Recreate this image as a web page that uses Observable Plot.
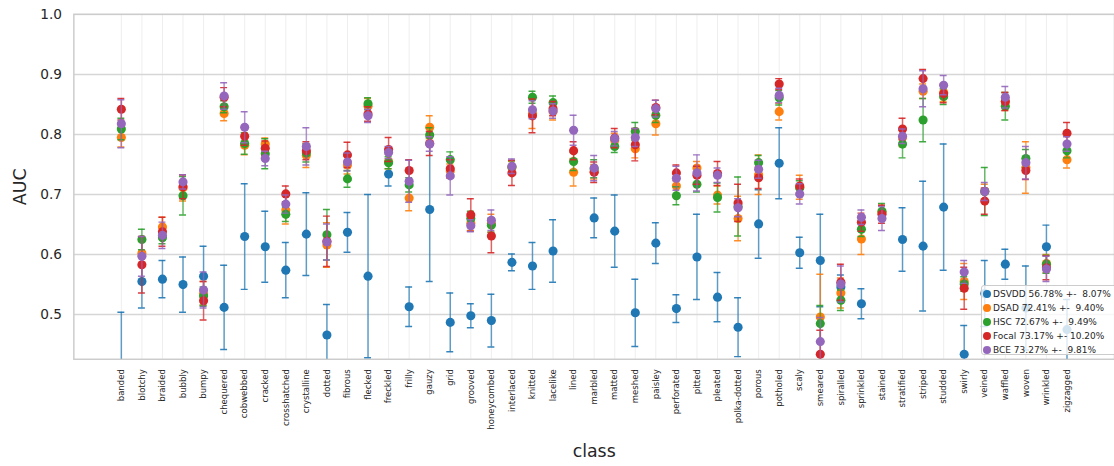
<!DOCTYPE html>
<html>
<head>
<meta charset="utf-8">
<script src="https://cdn.jsdelivr.net/npm/d3@7"></script>
<script src="https://cdn.jsdelivr.net/npm/@observablehq/plot@0.6"></script>
<style>
  body { margin: 0; background: #fff; }
  #wrap { position: relative; width: 1114px; height: 466px; overflow: hidden; background: #fff; }
  #legend { position: absolute; left: 981px; top: 285px; width: 150px; height: 70px;
    background: rgba(255,255,255,0.8); border: 1px solid #cccccc; border-radius: 3px;
    font-family: "DejaVu Sans", sans-serif; font-size: 9px; color: #262626; box-sizing: border-box; }
  .row { position: absolute; left: 0; height: 14px; white-space: pre; display: flex; align-items: center; }
  .sw { width: 8px; height: 8px; border-radius: 50%; margin-left: 1px; margin-right: 2px; }
</style>
</head>
<body>
<div id="wrap"><div id="legend"></div></div>
<script>
const classes = ["banded","blotchy","braided","bubbly","bumpy","chequered","cobwebbed","cracked","crosshatched","crystalline","dotted","fibrous","flecked","freckled","frilly","gauzy","grid","grooved","honeycombed","interlaced","knitted","lacelike","lined","marbled","matted","meshed","paisley","perforated","pitted","pleated","polka-dotted","porous","potholed","scaly","smeared","spiralled","sprinkled","stained","stratified","striped","studded","swirly","veined","waffled","woven","wrinkled","zigzagged"];

const seriesNames = ["DSVDD","DSAD","HSC","Focal","BCE"];
const legendLabels = ["DSVDD 56.78% +-  8.07%","DSAD 72.41% +-  9.40%","HSC 72.67% +-  9.49%","Focal 73.17% +- 10.20%","BCE 73.27% +-  9.81%"];
const palette = ["#1f77b4","#ff7f0e","#2ca02c","#d62728","#9467bd"];
const yTicks = [0.5,0.6,0.7,0.8,0.9,1.0];

const dsvddMean = [0.41,0.555,0.559,0.550,0.564,0.512,0.630,0.613,0.574,0.634,0.466,0.637,0.564,0.734,0.513,0.675,0.487,0.498,0.490,0.587,0.581,0.606,0.40,0.661,0.639,0.503,0.619,0.510,0.596,0.529,0.479,0.651,0.752,0.603,0.590,0.546,0.518,0.40,0.625,0.614,0.679,0.434,0.535,0.584,0.511,0.613,0.475];
const dsvddStd  = [0.094,0.044,0.031,0.046,0.050,0.070,0.088,0.059,0.046,0.069,0.051,0.033,0.136,0.020,0.033,0.120,0.049,0.020,0.044,0.014,0.039,0.052,0.020,0.033,0.060,0.056,0.034,0.023,0.071,0.041,0.049,0.057,0.059,0.026,0.077,0.020,0.025,0.020,0.053,0.108,0.105,0.048,0.055,0.025,0.070,0.036,0.050];

const dsadMean = [0.795,0.602,0.646,0.711,0.535,0.835,0.782,0.784,0.674,0.765,0.616,0.749,0.847,0.755,0.694,0.812,0.739,0.652,0.652,0.745,0.835,0.838,0.737,0.738,0.790,0.776,0.818,0.714,0.744,0.699,0.660,0.733,0.838,0.712,0.496,0.536,0.626,0.670,0.795,0.872,0.870,0.555,0.705,0.855,0.745,0.585,0.758];
const dsadStd  = [0.016,0.020,0.016,0.022,0.020,0.012,0.016,0.010,0.023,0.020,0.037,0.015,0.013,0.012,0.021,0.019,0.012,0.012,0.015,0.010,0.025,0.014,0.023,0.012,0.012,0.015,0.019,0.015,0.011,0.015,0.037,0.033,0.014,0.020,0.071,0.025,0.026,0.012,0.015,0.012,0.015,0.030,0.012,0.015,0.043,0.015,0.014];

const hscMean = [0.809,0.625,0.628,0.698,0.531,0.846,0.785,0.768,0.667,0.769,0.633,0.726,0.851,0.753,0.716,0.799,0.758,0.660,0.649,0.746,0.862,0.853,0.755,0.743,0.780,0.805,0.832,0.698,0.717,0.695,0.680,0.753,0.861,0.711,0.485,0.524,0.642,0.672,0.784,0.824,0.863,0.551,0.705,0.847,0.760,0.584,0.773];
const hscStd  = [0.018,0.017,0.010,0.032,0.015,0.010,0.018,0.025,0.012,0.015,0.042,0.014,0.010,0.010,0.012,0.012,0.013,0.012,0.012,0.010,0.010,0.011,0.015,0.015,0.010,0.015,0.012,0.015,0.013,0.024,0.049,0.012,0.012,0.012,0.030,0.017,0.012,0.013,0.023,0.036,0.013,0.012,0.040,0.023,0.015,0.015,0.012];

const focalMean = [0.842,0.583,0.638,0.713,0.523,0.862,0.797,0.777,0.701,0.773,0.622,0.766,0.834,0.775,0.740,0.785,0.743,0.666,0.631,0.736,0.831,0.843,0.773,0.737,0.794,0.783,0.845,0.736,0.732,0.735,0.686,0.728,0.884,0.714,0.434,0.554,0.654,0.667,0.809,0.893,0.868,0.544,0.689,0.855,0.740,0.578,0.802];
const focalStd  = [0.018,0.047,0.024,0.020,0.032,0.016,0.015,0.012,0.013,0.015,0.042,0.021,0.012,0.020,0.018,0.020,0.015,0.027,0.028,0.021,0.028,0.012,0.015,0.017,0.016,0.027,0.012,0.013,0.015,0.020,0.031,0.018,0.009,0.012,0.040,0.030,0.015,0.015,0.018,0.015,0.015,0.035,0.022,0.015,0.015,0.020,0.018];

const bceMean = [0.818,0.597,0.632,0.721,0.541,0.864,0.812,0.760,0.684,0.780,0.621,0.754,0.831,0.770,0.722,0.784,0.731,0.648,0.657,0.747,0.841,0.839,0.807,0.744,0.793,0.795,0.843,0.727,0.736,0.732,0.678,0.742,0.865,0.701,0.455,0.551,0.662,0.660,0.797,0.876,0.882,0.571,0.705,0.862,0.753,0.576,0.784];
const bceStd  = [0.040,0.033,0.022,0.012,0.030,0.022,0.026,0.012,0.015,0.031,0.030,0.015,0.011,0.010,0.035,0.012,0.032,0.010,0.017,0.012,0.015,0.012,0.025,0.021,0.012,0.015,0.014,0.020,0.030,0.012,0.015,0.015,0.012,0.017,0.040,0.030,0.012,0.020,0.012,0.030,0.016,0.019,0.015,0.018,0.027,0.021,0.012];

const means = [dsvddMean, dsadMean, hscMean, focalMean, bceMean];
const stds = [dsvddStd, dsadStd, hscStd, focalStd, bceStd];

const seriesMarks = [];
seriesNames.forEach((s, si) => {
  const rows = classes.map((c, ci) => ({cls: c, series: s, mean: means[si][ci], std: stds[si][ci]}));
  seriesMarks.push(
    Plot.ruleX(rows, {x: "cls", y1: d => d.mean - d.std, y2: d => d.mean + d.std, stroke: "series", strokeWidth: 1.5, strokeOpacity: 0.7, clip: true}),
    Plot.tickY(rows, {x: "cls", y: d => d.mean - d.std, stroke: "series", strokeWidth: 1.5, strokeOpacity: 0.9, insetLeft: -3.5, insetRight: -3.5, clip: true}),
    Plot.tickY(rows, {x: "cls", y: d => d.mean + d.std, stroke: "series", strokeWidth: 1.5, strokeOpacity: 0.9, insetLeft: -3.5, insetRight: -3.5, clip: true}),
    Plot.dot(rows, {x: "cls", y: "mean", fill: "series", r: 4.6, stroke: "none", fillOpacity: 1, clip: true})
  );
});

const chart = Plot.plot({
  width: 1124,
  height: 466,
  marginLeft: 74,
  marginRight: 0,
  marginTop: 14,
  marginBottom: 104,
  style: {fontFamily: "DejaVu Sans, sans-serif", fontSize: "13px", color: "#262626", background: "white"},
  x: {type: "band", domain: classes, paddingInner: 1, paddingOuter: 2.31, align: 0.5},
  y: {domain: [0.4256, 1.0]},
  color: {domain: seriesNames, range: palette},
  marks: [
    Plot.gridX({stroke: "#eeeeee", strokeOpacity: 1, strokeWidth: 1}),
    Plot.gridY(yTicks, {stroke: "#d6d6d6", strokeOpacity: 1, strokeWidth: 1.5}),
    Plot.frame({stroke: "#cccccc", strokeWidth: 1.5}),
    Plot.axisY(yTicks, {tickSize: 0, tickPadding: 12, tickFormat: ".1f", fontSize: 13.8, label: null}),
    Plot.axisX({tickSize: 0, tickPadding: 10, tickRotate: -90, fontSize: 8.6, label: null}),
    ...seriesMarks,
    Plot.text(["AUC"], {text: d => d, frameAnchor: "left", dx: -54, rotate: -90, fontSize: 17.5, textAnchor: "middle", lineAnchor: "middle"}),
    Plot.text(["class"], {text: d => d, frameAnchor: "bottom", dy: 93, fontSize: 17.5, textAnchor: "middle", lineAnchor: "middle"})
  ]
});

const wrap = document.getElementById("wrap");
wrap.insertBefore(chart, wrap.firstChild);

const legend = document.getElementById("legend");
legendLabels.forEach((t, i) => {
  const row = document.createElement("div");
  row.className = "row";
  row.style.top = (0.5 + i * 14) + "px";
  const sw = document.createElement("span");
  sw.className = "sw";
  sw.style.background = palette[i];
  const tx = document.createElement("span");
  tx.textContent = t;
  row.appendChild(sw);
  row.appendChild(tx);
  legend.appendChild(row);
});
</script>
</body>
</html>
